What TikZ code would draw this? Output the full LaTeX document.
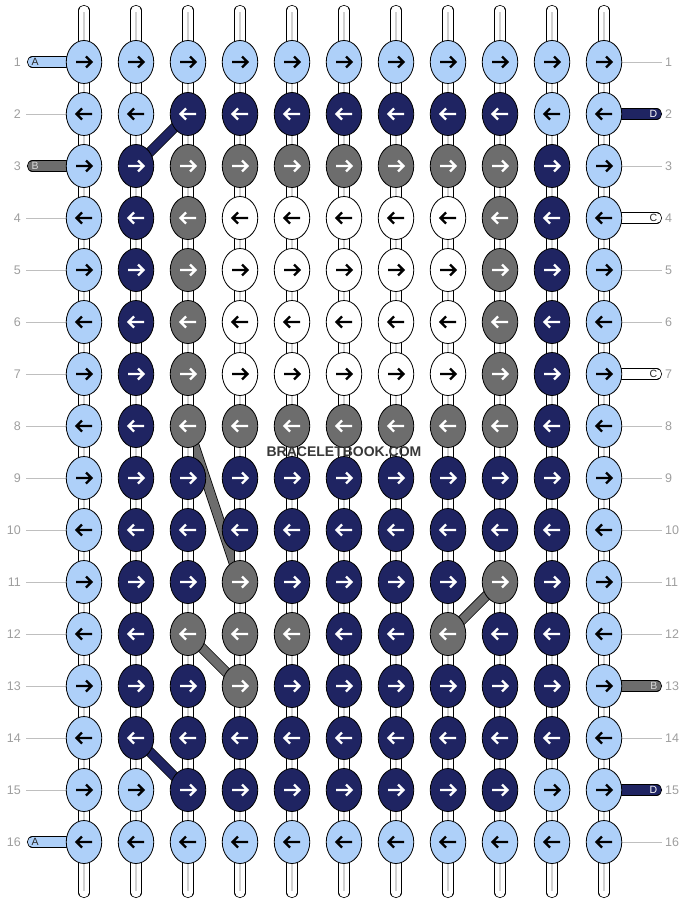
\documentclass[tikz,border=0pt]{standalone}
\usepackage{fontspec}
\setmainfont{Liberation Sans}
\usetikzlibrary{shapes.geometric}

\definecolor{cL}{HTML}{AED0F9}
\definecolor{cN}{HTML}{1F2462}
\definecolor{cG}{HTML}{6D6D6D}
\definecolor{cW}{HTML}{FFFFFF}
\colorlet{aL}{black}
\colorlet{aW}{black}
\colorlet{aN}{white}
\colorlet{aG}{white}

\tikzset{
  knot/.style={ellipse, draw=black, line width=.8pt, minimum width=35.5pt, minimum height=43pt, inner sep=0pt},
  strand/.style={draw=black, line width=.8pt, double=#1, double distance=9.5pt},
  warp/.style={strand=white},
  warpline/.style={draw=black!18, line width=1.6pt},
  diag/.style={draw=black, line width=.8pt, double=#1, double distance=8.5pt},
  tab/.style={strand=#1, line cap=round},
  rowline/.style={draw=black!25, line width=.8pt},
  rownum/.style={text=black!38, inner sep=0pt, font=\fontsize{12.5}{12.5}\selectfont},
  tablabel/.style={inner sep=0pt, font=\fontsize{10.5}{10.5}\selectfont},
  knotarrow/.pic={\draw[line width=2.3pt, line join=miter] (-8,0) -- (7,0) (2,-5.5) -- (7.5,0) -- (2,5.5);}
}

\begin{document}
\begin{tikzpicture}[x=1pt, y=-1pt]
\useasboundingbox (0,0) rectangle (688,904);

% knot positions
\foreach \r in {1,...,16}
  \foreach \c in {1,...,11}
    \coordinate (p-\r-\c) at ({32+52*\c},{10+52*\r});
\foreach \c in {1,...,11} {
  \coordinate (top-\c) at ({32+52*\c},10.5);
  \coordinate (bot-\c) at ({32+52*\c},892.5);
}

% diagonal carries
\draw[diag=cN] (p-2-3) -- (p-3-2);
\draw[diag=cG] (p-8-3) -- (p-11-4);
\draw[diag=cG] (p-12-3) -- (p-13-4);
\draw[diag=cG] (p-11-9) -- (p-12-8);
\draw[diag=cN] (p-14-2) -- (p-15-3);

% base strands
\foreach \c in {1,...,11} {
  \draw[warp, line cap=round] (top-\c) -- (p-1-\c);
  \draw[warpline, shorten <=2pt] (top-\c) -- (p-1-\c);
  \draw[warp, line cap=round] (p-16-\c) -- (bot-\c);
  \draw[warpline, shorten >=2pt] (p-16-\c) -- (bot-\c);
  \foreach \r [evaluate=\r as \s using int(\r+1)] in {1,...,15} {
    \draw[warp] (p-\r-\c) -- (p-\s-\c);
    \draw[warpline] (p-\r-\c) -- (p-\s-\c);
  }
}

% coloured runs between rows
\foreach \c/\gaps/\col in {1/{2,4,6,8,10,12,14}/cL, 2/{4,6,8,10,12}/cN, 3/{4,6}/cG,
    4/{4,6}/cW, 5/{4,6}/cW, 6/{4,6}/cW, 7/{4,6}/cW, 8/{4,6}/cW,
    9/{3,5,7}/cG, 10/{3,5,7,9,11,13}/cN, 11/{1,3,5,7,9,11,13,15}/cL}
  \foreach \r [evaluate=\r as \s using int(\r+1)] in \gaps
    \draw[strand=\col] (p-\r-\c) -- (p-\s-\c);

% working strand between knots
\foreach \r in {1,...,16}
  \foreach \c [evaluate=\c as \d using int(\c+1)] in {1,...,10}
    \draw[strand=cL] (p-\r-\c) -- (p-\r-\d);

% left ends
\foreach \r/\lab/\col/\txt in {1/A/cL/black!85, 3/B/cG/white!85!black, 16/A/cL/black!85} {
  \coordinate (l-\r) at (32.5,{10+52*\r});
  \draw[tab=\col] (l-\r) -- (p-\r-1);
  \node[tablabel, text=\txt, anchor=west] (la-\r) at (31.5,{10+52*\r}) {\lab};
}
\foreach \r in {2,4,5,...,15} {
  \coordinate (l-\r) at (26,{10+52*\r});
  \draw[rowline] (l-\r) -- (p-\r-1);
}

% right ends
\foreach \r/\lab/\col/\txt in {2/D/cN/white, 4/C/cW/black!85, 7/C/cW/black!85, 13/B/cG/white!85!black, 15/D/cN/white} {
  \coordinate (r-\r) at (656.5,{10+52*\r});
  \draw[tab=\col] (p-\r-11) -- (r-\r);
  \node[tablabel, text=\txt, anchor=east] (ra-\r) at (657.5,{10+52*\r}) {\lab};
}
\foreach \r in {1,3,5,6,8,9,10,11,12,14,16} {
  \coordinate (r-\r) at (662,{10+52*\r});
  \draw[rowline] (p-\r-11) -- (r-\r);
}

% row numbers
\foreach \r in {1,...,16} {
  \node[rownum, anchor=east] (nl-\r) at (21,{10+52*\r}) {\r};
  \node[rownum, anchor=west] (nr-\r) at (665,{10+52*\r}) {\r};
}

% knots
\foreach \r/\row in {
    1/{L,L,L,L,L,L,L,L,L,L,L},
    2/{L,L,N,N,N,N,N,N,N,L,L},
    3/{L,N,G,G,G,G,G,G,G,N,L},
    4/{L,N,G,W,W,W,W,W,G,N,L},
    5/{L,N,G,W,W,W,W,W,G,N,L},
    6/{L,N,G,W,W,W,W,W,G,N,L},
    7/{L,N,G,W,W,W,W,W,G,N,L},
    8/{L,N,G,G,G,G,G,G,G,N,L},
    9/{L,N,N,N,N,N,N,N,N,N,L},
    10/{L,N,N,N,N,N,N,N,N,N,L},
    11/{L,N,N,G,N,N,N,N,G,N,L},
    12/{L,N,G,G,G,N,N,G,N,N,L},
    13/{L,N,N,G,N,N,N,N,N,N,L},
    14/{L,N,N,N,N,N,N,N,N,N,L},
    15/{L,L,N,N,N,N,N,N,N,L,L},
    16/{L,L,L,L,L,L,L,L,L,L,L}} {
  \pgfmathsetmacro\dir{ifthenelse(isodd(\r),1,-1)}
  \foreach \k [count=\c] in \row {
    \node[knot, fill=c\k] (k-\r-\c) at (p-\r-\c) {};
    \pic[color=a\k, xscale=\dir] at (k-\r-\c) {knotarrow};
  }
}

\node[font=\bfseries\fontsize{14}{14}\selectfont, text=black!78] (mark) at (344,452) {BRACELETBOOK.COM};

\end{tikzpicture}
\end{document}
